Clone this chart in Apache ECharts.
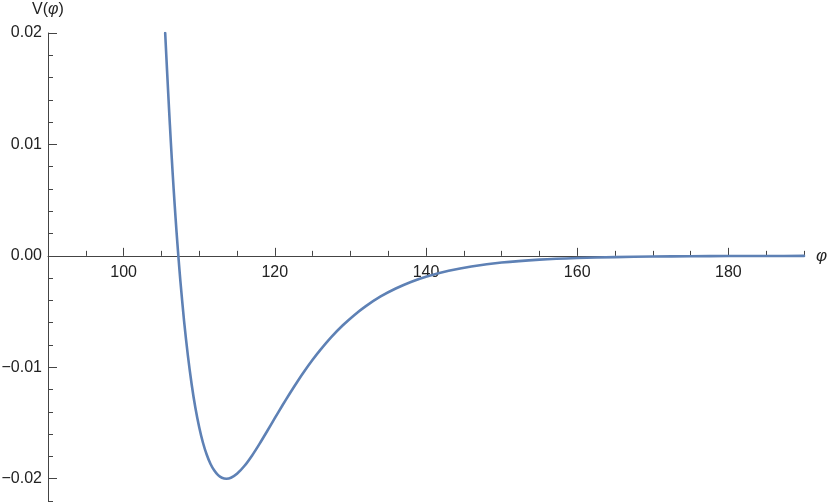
<!DOCTYPE html>
<html>
<head>
<meta charset="utf-8">
<script src="https://cdn.jsdelivr.net/npm/echarts@6/dist/echarts.min.js"></script>
<style>html,body{margin:0;padding:0;background:#fff}#c{width:830px;height:502px}</style>
</head>
<body>
<div id="c"></div>
<script>
const phi = [105.5, 105.75, 106.0, 106.25, 106.5, 106.75, 107.0, 107.25, 107.5, 108.0, 108.5, 109.0, 109.5, 110.0, 110.5, 111.0, 111.5, 112.0, 112.5, 113.0, 113.6, 114.2, 115.0, 116.0, 117.0, 118.0, 119.0, 120.0, 121.0, 122.0, 123.0, 124.0, 125.0, 126.0, 127.5, 129.0, 130.5, 132.0, 134.0, 136.0, 138.0, 140.0, 143.0, 146.0, 150.0, 155.0, 160.0, 165.0, 170.0, 175.0, 180.0, 185.0, 190.0];
const V   = [0.0200, 0.0166, 0.0133, 0.0102, 0.0073, 0.00464, 0.00218, -0.00008, -0.00218, -0.00586, -0.00894, -0.01152, -0.01366, -0.01538, -0.01677, -0.01785, -0.01868, -0.01927, -0.01968, -0.01991, -0.0200, -0.01991, -0.01956, -0.01884, -0.01791, -0.01685, -0.01572, -0.01457, -0.01343, -0.01233, -0.01127, -0.01027, -0.00933, -0.00846, -0.00727, -0.00623, -0.00532, -0.00453, -0.00364, -0.00293, -0.00234, -0.00187, -0.00134, -0.00095, -0.00060, -0.00034, -0.00019, -0.00011, -0.00006, -0.000034, -0.000019, -0.000011, -0.000006];
const xMajor = [100, 120, 140, 160, 180];
const xMinor = [95, 105, 110, 115, 125, 130, 135, 145, 150, 155, 165, 170, 175, 185, 190];
const yMajor = [-0.02, -0.01, 0, 0.01, 0.02];
const yMinor = [-0.022, -0.018, -0.016, -0.014, -0.012, -0.008, -0.006, -0.004, -0.002, 0.002, 0.004, 0.006, 0.008, 0.012, 0.014, 0.016, 0.018];

const axisColor = '#444';
const textColor = '#222';
const font = 'Liberation Sans, Arial, sans-serif';
const chart = echarts.init(document.getElementById('c'), null, {renderer: 'canvas'});
chart.setOption({
  animation: false,
  grid: [
    {left: 48, right: 26, top: 33, bottom: 1, containLabel: false, outerBoundsMode: 'none'},
    {left: 48, right: 26, top: 33, height: 223, containLabel: false, outerBoundsMode: 'none'}
  ],
  xAxis: [{
    gridIndex: 0, type: 'value', min: 90, max: 190, position: 'bottom',
    name: 'φ', nameLocation: 'end', nameGap: 12,
    nameTextStyle: {fontFamily: font, fontSize: 17, fontStyle: 'italic', color: textColor},
    axisLine: {onZero: true, lineStyle: {color: axisColor, width: 1}},
    axisTick: {show: true, inside: true, length: 8, customValues: xMajor, lineStyle: {color: axisColor}},
    axisLabel: {show: false},
    splitLine: {show: false}
  }, {
    gridIndex: 0, type: 'value', min: 90, max: 190, position: 'bottom',
    axisLine: {show: false, onZero: true, onZeroAxisIndex: 0},
    axisTick: {show: true, inside: true, length: 5, customValues: xMinor, lineStyle: {color: axisColor}},
    axisLabel: {show: false},
    splitLine: {show: false}
  }, {
    gridIndex: 1, type: 'value', min: 90, max: 190, position: 'bottom',
    axisLine: {show: false, onZero: false},
    axisTick: {show: false},
    axisLabel: {show: true, customValues: xMajor, margin: 9, fontFamily: font, fontSize: 16, color: textColor},
    splitLine: {show: false}
  }],
  yAxis: [{
    gridIndex: 0, type: 'value', min: -0.022, max: 0.02, position: 'left',
    name: '{n|V(}{i|φ}{n|)}', nameLocation: 'end', nameGap: 15,
    nameTextStyle: {align: 'center', rich: {
      n: {fontFamily: font, fontSize: 16, color: textColor},
      i: {fontFamily: font, fontSize: 16, fontStyle: 'italic', color: textColor}
    }},
    axisLine: {show: true, onZero: false, lineStyle: {color: axisColor, width: 1}},
    axisTick: {show: true, inside: true, length: 9, customValues: yMajor, lineStyle: {color: axisColor}},
    axisLabel: {show: true, customValues: yMajor, margin: 6, fontFamily: font, fontSize: 16, color: textColor,
      formatter: v => (v < 0 ? '\u2212' : '') + Math.abs(v).toFixed(2)},
    splitLine: {show: false}
  }, {
    gridIndex: 0, type: 'value', min: -0.022, max: 0.02, position: 'left',
    axisLine: {show: false, onZero: false},
    axisTick: {show: true, inside: true, length: 5, customValues: yMinor, lineStyle: {color: axisColor}},
    axisLabel: {show: false},
    splitLine: {show: false}
  }, {
    gridIndex: 1, type: 'value', min: 0, max: 1, show: false
  }],
  series: [{
    type: 'line', xAxisIndex: 0, yAxisIndex: 0,
    data: phi.map((x, i) => [x, V[i]]),
    showSymbol: false, smooth: 0.25,
    lineStyle: {color: '#5E81B5', width: 2.6, cap: 'round', join: 'round'},
    z: 1
  }]
});
</script>
</body>
</html>
